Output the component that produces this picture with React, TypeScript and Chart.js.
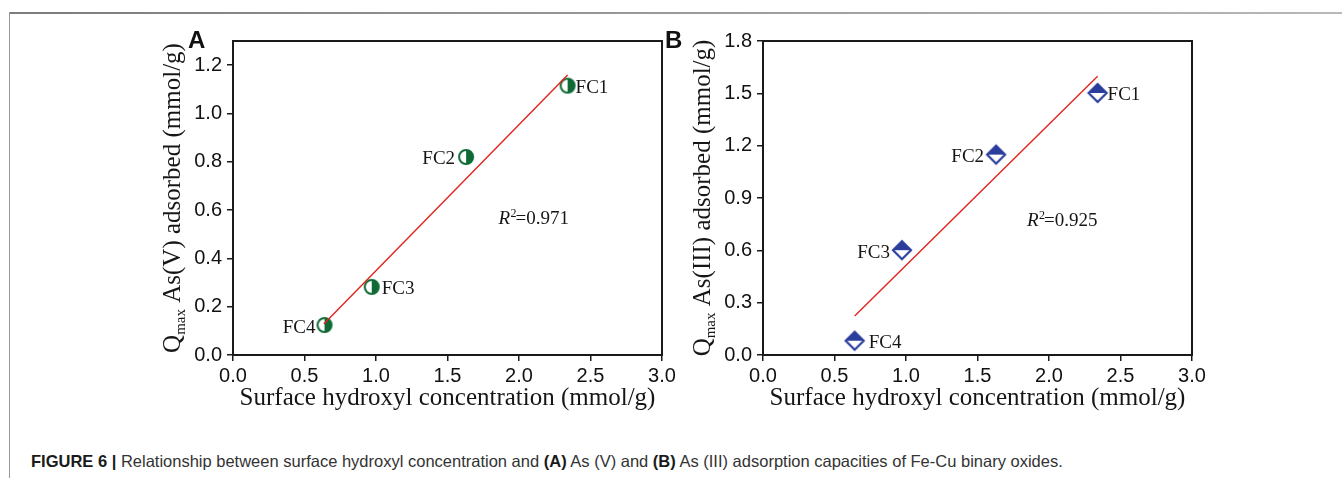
import { useEffect, useRef } from "react";
import { Chart, registerables } from "chart.js";

Chart.register(...registerables);

// ---------- data ----------
const samples = ["FC1", "FC2", "FC3", "FC4"];
const hydroxylA = [2.34, 1.63, 0.97, 0.64];
const qmaxA = [1.115, 0.82, 0.282, 0.124];
const fitXA = [0.635, 2.34];
const fitYA = [0.128, 1.159];
const hydroxylB = [2.34, 1.63, 0.972, 0.641];
const qmaxB = [1.502, 1.149, 0.601, 0.082];
const fitXB = [0.641, 2.34];
const fitYB = [0.223, 1.598];
const xTicks = [0, 0.5, 1.0, 1.5, 2.0, 2.5, 3.0];
const yTicksA = [0, 0.2, 0.4, 0.6, 0.8, 1.0, 1.2];
const yTicksB = [0, 0.3, 0.6, 0.9, 1.2, 1.5, 1.8];
const r2A = "0.971";
const r2B = "0.925";
const xTitle = "Surface hydroxyl concentration (mmol/g)";
const yTitleA = " As(V) adsorbed (mmol/g)";
const yTitleB = " As(III) adsorbed (mmol/g)";

const AXIS = "#1a1a1a";
const TEXT = "#161616";
const RED = "#e2231c";
const GREEN = "#0f6a36";
const BLUE = "#2b3d9c";
const SANS = '"Liberation Sans", Arial, sans-serif';
const SERIF = '"Liberation Serif", "Times New Roman", serif';

function makeCircleMarker(color: string) {
  const c = document.createElement("canvas");
  c.width = 20;
  c.height = 20;
  const ctx = c.getContext("2d")!;
  const cx = 10, cy = 10, r = 7;
  ctx.beginPath();
  ctx.arc(cx, cy, r, 0, Math.PI * 2);
  ctx.fillStyle = "#fff";
  ctx.fill();
  ctx.beginPath();
  ctx.moveTo(cx, cy);
  ctx.arc(cx, cy, r, -Math.PI / 2, Math.PI / 2);
  ctx.closePath();
  ctx.fillStyle = color;
  ctx.fill();
  ctx.beginPath();
  ctx.arc(cx, cy, r, 0, Math.PI * 2);
  ctx.lineWidth = 2;
  ctx.strokeStyle = color;
  ctx.stroke();
  return c;
}

function makeDiamondMarker(color: string) {
  const c = document.createElement("canvas");
  c.width = 24;
  c.height = 24;
  const ctx = c.getContext("2d")!;
  const cx = 12, cy = 12, h = 9;
  ctx.beginPath();
  ctx.moveTo(cx - h, cy);
  ctx.lineTo(cx, cy - h);
  ctx.lineTo(cx + h, cy);
  ctx.lineTo(cx, cy + h);
  ctx.closePath();
  ctx.fillStyle = "#fff";
  ctx.fill();
  ctx.beginPath();
  ctx.moveTo(cx - h, cy);
  ctx.lineTo(cx, cy - h);
  ctx.lineTo(cx + h, cy);
  ctx.closePath();
  ctx.fillStyle = color;
  ctx.fill();
  ctx.beginPath();
  ctx.moveTo(cx - h, cy);
  ctx.lineTo(cx, cy - h);
  ctx.lineTo(cx + h, cy);
  ctx.lineTo(cx, cy + h);
  ctx.closePath();
  ctx.lineWidth = 2.2;
  ctx.strokeStyle = color;
  ctx.stroke();
  return c;
}

type PanelCfg = {
  letter: string;
  left: number;
  width: number;
  padding: { left: number; right: number; top: number; bottom: number };
  xs: number[];
  ys: number[];
  fitX: number[];
  fitY: number[];
  yMax: number;
  yTicks: number[];
  yTitle: string;
  r2: string;
  r2Pos: [number, number];
  labelSide: number[];
  labelOff: number[];
  marker: "circle" | "diamond";
  color: string;
};

const panels: PanelCfg[] = [
  {
    letter: "A",
    left: 0,
    width: 700,
    padding: { left: 153, right: 38, top: 41, bottom: 35 },
    xs: hydroxylA,
    ys: qmaxA,
    fitX: fitXA,
    fitY: fitYA,
    yMax: 1.3,
    yTicks: yTicksA,
    yTitle: yTitleA,
    r2: r2A,
    r2Pos: [1.857, 0.544],
    labelSide: [1, -1, 1, -1],
    labelOff: [8, 11, 10, 9],
    marker: "circle",
    color: GREEN,
  },
  {
    letter: "B",
    left: 640,
    width: 702,
    padding: { left: 43, right: 150, top: 41, bottom: 35 },
    xs: hydroxylB,
    ys: qmaxB,
    fitX: fitXB,
    fitY: fitYB,
    yMax: 1.8,
    yTicks: yTicksB,
    yTitle: yTitleB,
    r2: r2B,
    r2Pos: [1.846, 0.739],
    labelSide: [1, -1, -1, 1],
    labelOff: [10, 12, 12, 14],
    marker: "diamond",
    color: BLUE,
  },
];

const H = 430;

function PanelChart({ cfg }: { cfg: PanelCfg }) {
  const ref = useRef<HTMLCanvasElement>(null);
  useEffect(() => {
    const canvas = ref.current!;
    const marker = cfg.marker === "circle" ? makeCircleMarker(cfg.color) : makeDiamondMarker(cfg.color);

    const annot = {
      id: "annot" + cfg.letter,
      afterDraw(chart: any) {
        const { ctx, chartArea: a, scales } = chart;
        ctx.save();
        // frame
        ctx.strokeStyle = AXIS;
        ctx.lineWidth = 2;
        ctx.strokeRect(a.left, a.top, a.right - a.left, a.bottom - a.top);

        // point labels
        const meta = chart.getDatasetMeta(1);
        ctx.fillStyle = TEXT;
        ctx.font = `19px ${SERIF}`;
        ctx.textBaseline = "alphabetic";
        meta.data.forEach((pt: any, i: number) => {
          const side = cfg.labelSide[i];
          ctx.textAlign = side > 0 ? "left" : "right";
          ctx.fillText(samples[i], pt.x + side * cfg.labelOff[i], pt.y + 7.5);
        });

        // R^2 annotation
        const rx = scales.x.getPixelForValue(cfg.r2Pos[0]);
        const ry = scales.y.getPixelForValue(cfg.r2Pos[1]);
        ctx.textAlign = "left";
        ctx.font = `italic 19px ${SERIF}`;
        ctx.fillText("R", rx, ry);
        ctx.font = `12px ${SERIF}`;
        ctx.fillText("2", rx + 12, ry - 7);
        ctx.font = `19px ${SERIF}`;
        ctx.fillText("=" + cfg.r2, rx + 17, ry);

        // x title
        ctx.font = `25px ${SERIF}`;
        ctx.textAlign = "center";
        ctx.fillText(xTitle, (a.left + a.right) / 2, 405);

        // y title with subscript
        const segs = [
          { t: "Q", f: `25px ${SERIF}`, dy: 0 },
          { t: "max", f: `15px ${SERIF}`, dy: 5 },
          { t: cfg.yTitle, f: `25px ${SERIF}`, dy: 0 },
        ];
        let total = 0;
        const widths = segs.map((s) => {
          ctx.font = s.f;
          const w = ctx.measureText(s.t).width;
          total += w;
          return w;
        });
        ctx.translate(a.left - 53, (a.top + a.bottom) / 2);
        ctx.rotate(-Math.PI / 2);
        ctx.textAlign = "left";
        let cur = -total / 2;
        segs.forEach((s, i) => {
          ctx.font = s.f;
          ctx.fillText(s.t, cur, s.dy);
          cur += widths[i];
        });
        ctx.setTransform(1, 0, 0, 1, 0, 0);

        // panel letter
        ctx.font = `bold 24px ${SANS}`;
        ctx.fillStyle = "#111";
        ctx.textAlign = "left";
        ctx.fillText(cfg.letter, cfg.letter === "A" ? 188 : 665 - cfg.left, 48);
        ctx.restore();
      },
    };

    const chart = new Chart(canvas, {
      type: "scatter",
      data: {
        datasets: [
          {
            type: "line",
            data: cfg.fitX.map((x, i) => ({ x, y: cfg.fitY[i] })),
            borderColor: RED,
            borderWidth: 1.4,
            pointRadius: 0,
            showLine: true,
            fill: false,
          } as any,
          {
            data: cfg.xs.map((x, i) => ({ x, y: cfg.ys[i] })),
            pointStyle: marker as any,
            pointRadius: 10,
            showLine: false,
          },
        ],
      },
      options: {
        animation: false,
        responsive: false,
        devicePixelRatio: 1,
        layout: { padding: cfg.padding },
        plugins: { legend: { display: false }, tooltip: { enabled: false } },
        scales: {
          x: {
            type: "linear",
            min: 0,
            max: 3,
            afterBuildTicks: (s: any) => {
              s.ticks = xTicks.map((v) => ({ value: v }));
            },
            afterFit: (s: any) => {
              s.height = 40;
              s.paddingLeft = 0;
              s.paddingRight = 0;
            },
            border: { display: false },
            grid: {
              display: true,
              drawOnChartArea: false,
              drawTicks: true,
              tickLength: 6,
              color: AXIS,
              lineWidth: 1.5,
            },
            ticks: {
              padding: 3,
              color: "#111",
              font: { family: SANS, size: 20 },
              maxRotation: 0,
              callback: (v: any) => Number(v).toFixed(1),
            },
          },
          y: {
            type: "linear",
            min: 0,
            max: cfg.yMax,
            afterBuildTicks: (s: any) => {
              s.ticks = cfg.yTicks.map((v) => ({ value: v }));
            },
            afterFit: (s: any) => {
              s.width = 80;
              s.paddingTop = 0;
              s.paddingBottom = 0;
            },
            border: { display: false },
            grid: {
              display: true,
              drawOnChartArea: false,
              drawTicks: true,
              tickLength: 6,
              color: AXIS,
              lineWidth: 1.5,
            },
            ticks: {
              padding: 5,
              color: "#111",
              font: { family: SANS, size: 20 },
              callback: (v: any) => Number(v).toFixed(1),
            },
          },
        },
      },
      plugins: [annot],
    });
    return () => chart.destroy();
  }, [cfg]);
  return (
    <canvas
      ref={ref}
      width={cfg.width}
      height={H}
      style={{ position: "absolute", left: cfg.left, top: 0, width: cfg.width, height: H }}
    />
  );
}

export default function App() {
  return (
    <div
      style={{
        position: "absolute",
        left: 0,
        top: 0,
        width: 1342,
        height: 478,
        background: "#fff",
        overflow: "hidden",
      }}
    >
      <div
        style={{
          position: "absolute",
          left: 9,
          top: 12,
          width: 1333,
          height: 2,
          background: "linear-gradient(to right, #7c7c7c, #b8b8b8)",
        }}
      />
      <div
        style={{
          position: "absolute",
          left: 9,
          top: 12,
          width: 1,
          height: 466,
          background: "#9a9a9a",
        }}
      />
      {panels.map((p) => (
        <PanelChart key={p.letter} cfg={p} />
      ))}
      <div
        style={{
          position: "absolute",
          left: 31,
          top: 452,
          fontFamily: SANS,
          fontSize: 16.5,
          lineHeight: "19px",
          color: "#333",
          whiteSpace: "nowrap",
        }}
      >
        <b style={{ color: "#1a1a1a" }}>FIGURE 6 |</b> Relationship between surface hydroxyl concentration and{" "}
        <b style={{ color: "#1a1a1a" }}>(A)</b> As (V) and <b style={{ color: "#1a1a1a" }}>(B)</b> As (III)
        adsorption capacities of Fe-Cu binary oxides.
      </div>
    </div>
  );
}
